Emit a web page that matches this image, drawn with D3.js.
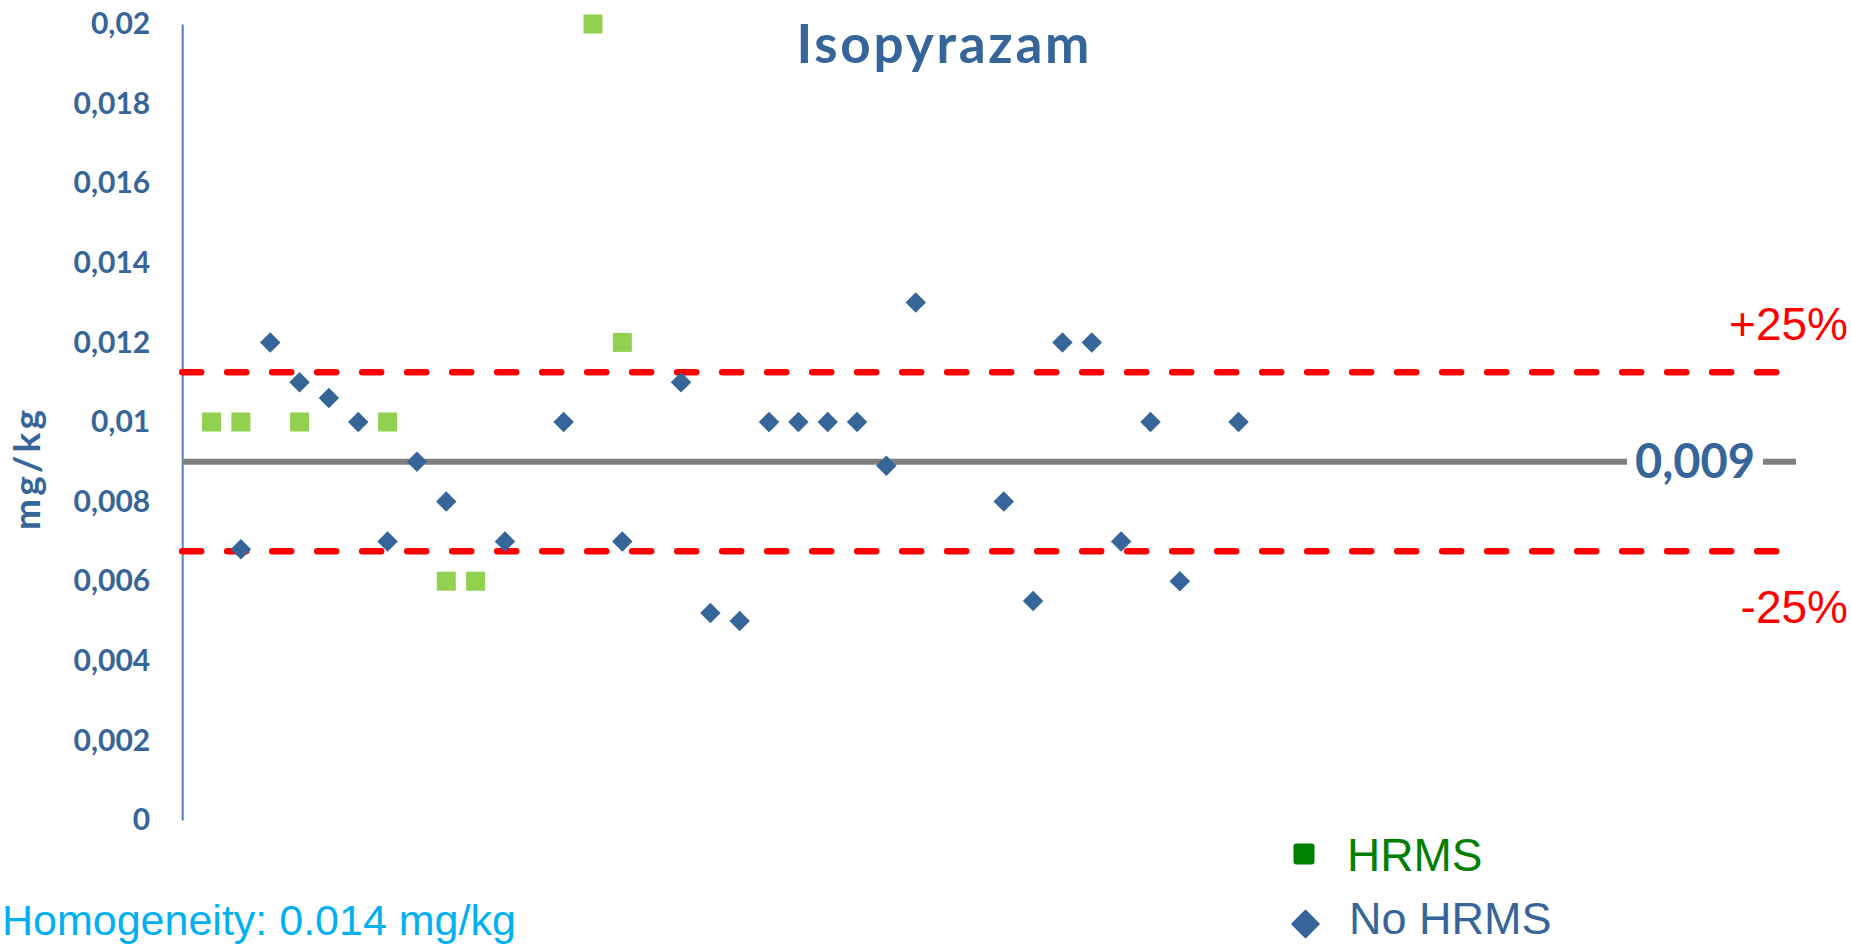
<!DOCTYPE html>
<html>
<head>
<meta charset="utf-8">
<script src="https://cdn.jsdelivr.net/npm/d3@7"></script>
<style>
  html, body { margin: 0; padding: 0; background: #fff; }
  svg { display: block; }
</style>
</head>
<body>
<svg id="chart" width="1851" height="946"></svg>
<script>
// ---- data ----
const title = "Isopyrazam";
const yTitle = "mg/kg";
const yTicks = [0, 0.002, 0.004, 0.006, 0.008, 0.01, 0.012, 0.014, 0.016, 0.018, 0.02];
const hrmsX = [1, 2, 4, 7, 9, 10, 14, 15];
const hrmsY = [0.01, 0.01, 0.01, 0.01, 0.006, 0.006, 0.02, 0.012];
const noHrmsX = [2, 3, 4, 5, 6, 7, 8, 9, 11, 13, 15, 17, 18, 19, 20, 21, 22, 23, 24, 25, 28, 29, 30, 31, 32, 33, 34, 36];
const noHrmsY = [0.0068, 0.012, 0.011, 0.0106, 0.01, 0.007, 0.009, 0.008, 0.007, 0.01, 0.007, 0.011, 0.0052, 0.005, 0.01, 0.01, 0.01, 0.01, 0.0089, 0.013, 0.008, 0.0055, 0.012, 0.012, 0.007, 0.01, 0.006, 0.01];
const assigned = 0.009;
const limitPct = 0.25;
const xExtent = [0, 55];
const legendLabels = ["HRMS", "No HRMS"];
const homogeneityText = "Homogeneity: 0.014 mg/kg";
const assignedLabel = "0,009";

// ---- setup ----
const svg = d3.select("#chart");
const blue = "#36659A";
const axisBlue = "#4F81BD";
const green = "#92D050";
const red = "#FF0000";

const x = d3.scaleLinear().domain(xExtent).range([182.2, 1796]);
const y = d3.scaleLinear().domain([0, 0.02]).range([820, 24]);

const locale = d3.formatLocale({decimal: ",", thousands: ".", grouping: [3], currency: ["", ""]});
const fmt = locale.format("~g");

// y axis
const yAxis = d3.axisLeft(y).tickValues(yTicks).tickSize(0).tickPadding(32).tickFormat(fmt);
const gy = svg.append("g").attr("transform", `translate(${x(0)},0)`).call(yAxis);
gy.select(".domain").attr("stroke", axisBlue).attr("stroke-width", 2);
gy.selectAll("text")
  .attr("fill", blue)
  .style("font-family", "Lato, 'Open Sans', sans-serif")
  .style("font-weight", "bold")
  .style("font-size", "30px");

// y title
svg.append("text")
  .attr("transform", `translate(40,470) rotate(-90)`)
  .attr("text-anchor", "middle")
  .attr("textLength", 120)
  .attr("lengthAdjust", "spacing")
  .attr("fill", blue)
  .style("font-family", "Lato, sans-serif")
  .style("font-weight", "bold")
  .style("font-size", "37px")
  .text(yTitle);

// title
svg.append("text")
  .attr("x", 943).attr("y", 63)
  .attr("text-anchor", "middle")
  .attr("textLength", 293)
  .attr("lengthAdjust", "spacing")
  .attr("fill", blue)
  .style("font-family", "Lato, sans-serif")
  .style("font-weight", "bold")
  .style("font-size", "53px")
  .text(title);

// reference lines
const line = d3.line().x(d => x(d[0])).y(d => y(d[1]));
svg.append("path")
  .attr("d", line([[xExtent[0], assigned], [xExtent[1], assigned]]))
  .attr("stroke", "#808080").attr("stroke-width", 6).attr("fill", "none");
[1 + limitPct, 1 - limitPct].forEach(f => {
  svg.append("path")
    .attr("d", line([[xExtent[0], assigned * f], [xExtent[1], assigned * f]]))
    .attr("stroke", red).attr("stroke-width", 6.5).attr("fill", "none")
    .attr("stroke-linecap", "round")
    .attr("stroke-dasharray", "19 26");
});

// assigned value label with white background
const lblX = 1695, lblY = y(assigned);
svg.append("rect")
  .attr("x", lblX - 68).attr("y", lblY - 22).attr("width", 136).attr("height", 44)
  .attr("fill", "#fff");
svg.append("text")
  .attr("x", lblX).attr("y", lblY + 16)
  .attr("text-anchor", "middle")
  .attr("fill", blue)
  .style("font-family", "Lato, sans-serif")
  .style("font-weight", "bold")
  .style("font-size", "47px")
  .text(assignedLabel);

// +25% / -25%
svg.append("text").attr("x", 1848).attr("y", 340).attr("text-anchor", "end")
  .attr("fill", red).style("font-family", "'Liberation Sans', Arial, sans-serif").style("font-size", "46px")
  .text("+25%");
svg.append("text").attr("x", 1848).attr("y", 623).attr("text-anchor", "end")
  .attr("fill", red).style("font-family", "'Liberation Sans', Arial, sans-serif").style("font-size", "46px")
  .text("-25%");

// points
const squareSym = d3.symbol().type(d3.symbolSquare).size(361);
const diamondSym = d3.symbol().type(d3.symbolSquare).size(210);

svg.append("g").selectAll("path")
  .data(hrmsX.map((v, i) => [v, hrmsY[i]]))
  .join("path")
  .attr("d", squareSym)
  .attr("transform", d => `translate(${x(d[0])},${y(d[1])})`)
  .attr("fill", green);

svg.append("g").selectAll("path")
  .data(noHrmsX.map((v, i) => [v, noHrmsY[i]]))
  .join("path")
  .attr("d", diamondSym)
  .attr("transform", d => `translate(${x(d[0])},${y(d[1])}) rotate(45)`)
  .attr("fill", blue);

// legend
const lg = svg.append("g");
lg.append("rect").attr("x", 1293.5).attr("y", 843.5).attr("width", 21).attr("height", 21).attr("rx", 3)
  .attr("fill", "#008000");
lg.append("text").attr("x", 1347).attr("y", 871).attr("fill", "#008000")
  .style("font-family", "'Liberation Sans', Arial, sans-serif").style("font-size", "46px")
  .text(legendLabels[0]);
lg.append("path").attr("d", d3.symbol().type(d3.symbolSquare).size(350)())
  .attr("transform", "translate(1305.5,924) rotate(45)")
  .attr("fill", blue).attr("stroke", blue).attr("stroke-width", 2).attr("stroke-linejoin", "round");
lg.append("text").attr("x", 1349).attr("y", 934).attr("fill", blue)
  .style("font-family", "'Liberation Sans', Arial, sans-serif").style("font-size", "45px")
  .text(legendLabels[1]);

// homogeneity note
svg.append("text").attr("x", 2).attr("y", 935).attr("fill", "#00B0F0")
  .style("font-family", "'Liberation Sans', Arial, sans-serif").style("font-size", "43px")
  .text(homogeneityText);
</script>
</body>
</html>
